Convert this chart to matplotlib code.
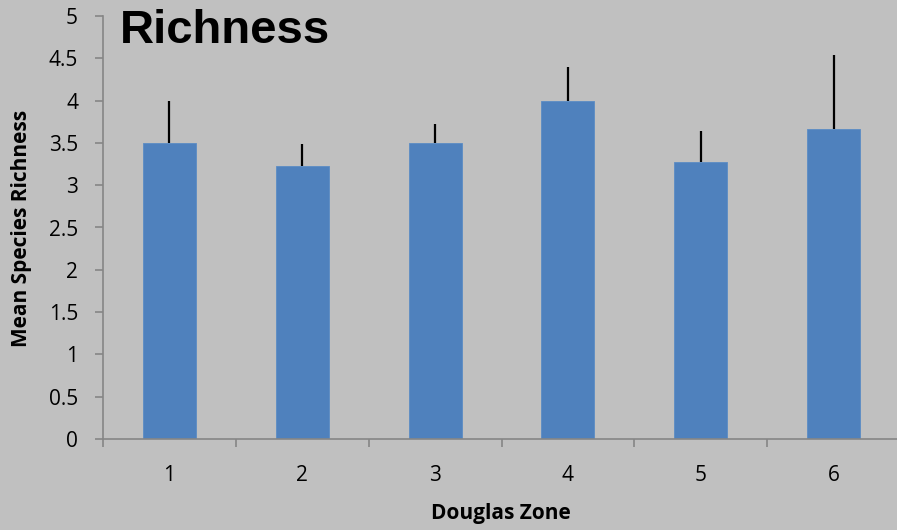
"""
Mean species richness by Douglas zone (bar chart with upper error bars).
"""

import numpy as np
import matplotlib
matplotlib.use("Agg")
import matplotlib.pyplot as plt

# ─────────────────────────── DATA ─────────────────────────────────────────────
zones     = ["1", "2", "3", "4", "5", "6"]
richness  = [3.50, 3.23, 3.50, 4.00, 3.27, 3.66]
err_upper = [0.50, 0.26, 0.22, 0.40, 0.37, 0.88]
y_ticks   = [0, 0.5, 1, 1.5, 2, 2.5, 3, 3.5, 4, 4.5, 5]
# ──────────────────────────────────────────────────────────────────────────────

BG       = "#c0c0c0"
BAR      = "#4f81bd"
AXIS_COL = "#868686"
FONT     = "Open Sans"

fig = plt.figure(figsize=(8.97, 5.30), dpi=100, facecolor=BG)
ax = fig.add_axes([103/897, 1 - 439/530, 797/897, (439 - 16)/530])
ax.set_facecolor(BG)

x = np.arange(len(zones))
ax.bar(x, richness, width=0.4, color=BAR, edgecolor="#5b8cc4", linewidth=0.6, zorder=2)
ax.errorbar(x, richness, yerr=[np.zeros(len(zones)), err_upper], fmt="none",
            ecolor="black", elinewidth=1.6, capsize=0, zorder=3)

ax.set_xlim(-0.5, len(zones) - 0.5)
ax.set_ylim(0, 5)
ax.set_yticks(y_ticks)
ax.set_yticklabels([f"{t:g}" for t in y_ticks], fontsize=15, family=FONT)

# category labels in the middle, tick marks at the boundaries
ax.set_xticks(x)
ax.set_xticklabels(zones, fontsize=15, family=FONT)
ax.tick_params(axis="x", length=0, pad=19)
ax.set_xticks(np.arange(-0.5, len(zones), 1.0), minor=True)
ax.tick_params(axis="x", which="minor", length=6, color=AXIS_COL, width=1.2)
ax.tick_params(axis="y", length=6, color=AXIS_COL, width=1.2, pad=12)

for s in ("top", "right"):
    ax.spines[s].set_visible(False)
for s in ("left", "bottom"):
    ax.spines[s].set_color(AXIS_COL)
    ax.spines[s].set_linewidth(1.2)

fig.text(22/897, 1 - 228/530, "Mean Species Richness", rotation=90, ha="center",
         va="center", fontsize=15, fontweight="bold", family=FONT)
fig.text(501/897, 1 - 513/530, "Douglas Zone", ha="center", va="center",
         fontsize=15, fontweight="bold", family=FONT)
fig.text(120/897, 1 - 43/530, "Richness", ha="left", va="baseline",
         fontsize=34, fontweight="bold", family="Liberation Sans")

fig.savefig("out.png", dpi=100, facecolor=BG)
